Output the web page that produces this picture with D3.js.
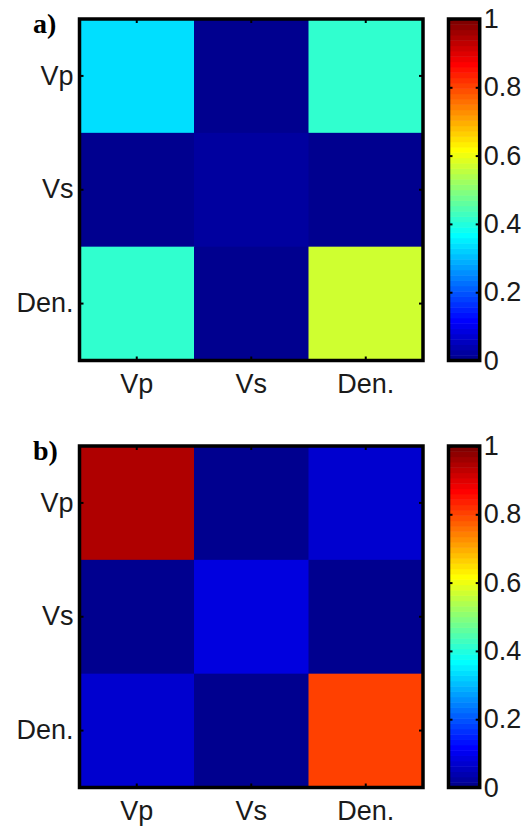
<!DOCTYPE html>
<html><head><meta charset="utf-8">
<script src="https://cdn.jsdelivr.net/npm/d3@7"></script>
<style>body{margin:0;background:#fff}svg{display:block}</style>
</head><body><svg id="c" width="528" height="827"></svg>
<script>
const categories = ["Vp", "Vs", "Den."];
const valuesA = [[0.335, 0.01, 0.41], [0.01, 0.02, 0.01], [0.41, 0.01, 0.57]];
const valuesB = [[0.945, 0.01, 0.07], [0.01, 0.085, 0.01], [0.07, 0.01, 0.80]];
const colorbarTicks = [0, 0.2, 0.4, 0.6, 0.8, 1];
const panelLabels = ["a)", "b)"];

// MATLAB jet(64)
const N = 64;
const clamp = v => Math.max(0, Math.min(1, v));
function jetAt(x) {
  const r = clamp(1.5 - Math.abs(4 * x - 3));
  const g = clamp(1.5 - Math.abs(4 * x - 2));
  const b = clamp(1.5 - Math.abs(4 * x - 1));
  return d3.rgb(r * 255, g * 255, b * 255).formatHex();
}
const jet64 = d3.range(N).map(i => jetAt((i + 1) / N));
const color = d3.scaleQuantize().domain([0, 1]).range(jet64);

const svg = d3.select("#c");
const font = "'Liberation Sans', Arial, sans-serif";
const textColor = "#1a1a1a";

function panel(values, label, oy) {
  const x0 = 79.5, x1 = 423, y0 = 19 + oy, y1 = 360.5 + oy;
  const cbX0 = 448.5, cbX1 = 479.7;
  const g = svg.append("g");
  const x = d3.scaleBand().domain(categories).range([x0, x1]);
  const y = d3.scaleBand().domain(categories).range([y0, y1]);

  // cells
  const cells = [];
  values.forEach((row, i) => row.forEach((v, j) => cells.push({r: categories[i], c: categories[j], v})));
  g.selectAll("rect.cell").data(cells).join("rect")
    .attr("class", "cell")
    .attr("x", d => x(d.c)).attr("y", d => y(d.r))
    .attr("width", x.bandwidth() + 0.5).attr("height", y.bandwidth() + 0.5)
    .attr("fill", d => color(d.v));

  const styleAxis = (sel, anchor) => {
    sel.select(".domain").remove();
    sel.selectAll(".tick line").attr("stroke", "#000").attr("stroke-width", 2);
    sel.selectAll(".tick text").attr("fill", textColor)
      .style("font-family", font).style("font-size", "27px");
  };

  g.append("g").attr("transform", `translate(0,${y1})`)
    .call(d3.axisBottom(x).tickSizeInner(-4).tickSizeOuter(0).tickPadding(13))
    .call(styleAxis);
  g.append("g").attr("transform", `translate(0,${y0})`)
    .call(d3.axisTop(x).tickSizeInner(-4).tickSizeOuter(0).tickFormat(""))
    .call(styleAxis);
  g.append("g").attr("transform", `translate(${x0},0)`)
    .call(d3.axisLeft(y).tickSizeInner(-4).tickSizeOuter(0).tickPadding(6))
    .call(styleAxis);
  g.append("g").attr("transform", `translate(${x1},0)`)
    .call(d3.axisRight(y).tickSizeInner(-4).tickSizeOuter(0).tickFormat(""))
    .call(styleAxis);

  g.append("rect").attr("x", x0).attr("y", y0).attr("width", x1 - x0).attr("height", y1 - y0)
    .attr("fill", "none").attr("stroke", "#000").attr("stroke-width", 3.5);

  // colorbar
  const cy = d3.scaleLinear().domain([0, 1]).range([y1, y0]);
  g.selectAll("rect.cb").data(jet64).join("rect")
    .attr("class", "cb")
    .attr("x", cbX0).attr("width", cbX1 - cbX0)
    .attr("y", (c, i) => cy((i + 1) / N))
    .attr("height", (c, i) => cy(i / N) - cy((i + 1) / N) + 0.5)
    .attr("fill", c => c);
  g.append("g").attr("transform", `translate(${cbX1},0)`)
    .call(d3.axisRight(cy).tickValues(colorbarTicks).tickFormat(d => String(d))
      .tickSizeInner(-4).tickSizeOuter(0).tickPadding(4))
    .call(styleAxis);
  g.append("g").attr("transform", `translate(${cbX0},0)`)
    .call(d3.axisLeft(cy).tickValues(colorbarTicks).tickFormat("")
      .tickSizeInner(-4).tickSizeOuter(0))
    .call(styleAxis);
  g.append("rect").attr("x", cbX0).attr("y", y0).attr("width", cbX1 - cbX0).attr("height", y1 - y0)
    .attr("fill", "none").attr("stroke", "#000").attr("stroke-width", 3.5);

  g.append("text").attr("x", 33).attr("y", 32.5 + oy)
    .style("font-family", "'Liberation Serif', 'Times New Roman', serif")
    .style("font-weight", "bold").style("font-size", "28px")
    .attr("fill", "#000").text(label);
}

panel(valuesA, panelLabels[0], 0);
panel(valuesB, panelLabels[1], 427);
</script></body></html>
